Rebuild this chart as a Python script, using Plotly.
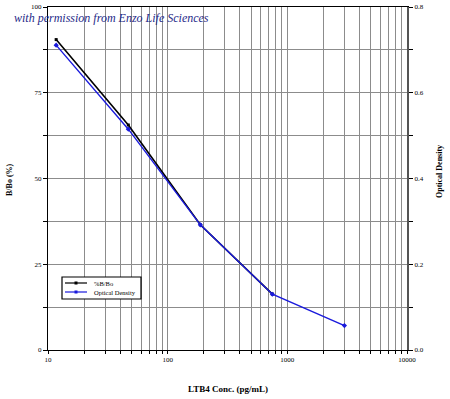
import plotly.graph_objects as go

conc_bbo = [11.7, 46.9, 187.5, 750]
bbo_pct = [90.5, 65.6, 36.5, 16.3]
conc_od = [11.7, 46.9, 187.5, 750, 3000]
od_vals = [0.711, 0.515, 0.292, 0.130, 0.057]

x_major = [10, 100, 1000, 10000]
x_major_text = ["10", "100", "1000", "10000"]
x_minor = [m * d for d in (10, 100, 1000) for m in range(2, 10)]
y_major = [0, 25, 50, 75, 100]
y_minor = [12.5, 37.5, 62.5, 87.5]
y2_major = [0, 0.2, 0.4, 0.6, 0.8]
y2_major_text = ["0.0", "0.2", "0.4", "0.6", "0.8"]
y2_minor = [0.1, 0.3, 0.5, 0.7]

SERIF = "Liberation Serif"
GRID = "#8c8c8c"
BLACK = "black"
BLUE = "#1a1adc"

W, H = 450, 399
L, R, T, B = 48, 43, 7, 49
PW, PH = W - L - R, H - T - B


def px(x):
    return (x - L) / PW


def py(y):
    return 1 - (y - T) / PH


fig = go.Figure()
fig.add_trace(go.Scatter(x=conc_bbo, y=bbo_pct, name="%B/Bo", mode="lines+markers",
                         line=dict(color=BLACK, width=1.6),
                         marker=dict(symbol="square", size=3, color=BLACK), yaxis="y"))
fig.add_trace(go.Scatter(x=conc_od, y=od_vals, name="Optical Density", mode="lines+markers",
                         line=dict(color=BLUE, width=1.4),
                         marker=dict(symbol="diamond", size=4, color=BLUE), yaxis="y2"))

fig.update_layout(
    width=W, height=H,
    margin=dict(l=L, r=R, t=T, b=B),
    paper_bgcolor="white", plot_bgcolor="white",
    font=dict(family=SERIF, size=7, color="black"),
    showlegend=False,
    xaxis=dict(type="log", range=[1, 4], tickvals=x_major, ticktext=x_major_text,
               showgrid=True, gridcolor=GRID, gridwidth=1,
               showline=True, linecolor="black", linewidth=1, mirror=True,
               ticks="outside", ticklen=3, tickcolor="black",
               minor=dict(tickvals=x_minor, showgrid=True, gridcolor=GRID, gridwidth=1,
                          ticks="outside", ticklen=3, tickcolor="black"),
               tickfont=dict(family=SERIF, size=7, color="black"), zeroline=False, automargin=False),
    yaxis=dict(range=[0, 100], tickvals=y_major,
               showgrid=True, gridcolor=GRID, gridwidth=1,
               showline=True, linecolor="black", linewidth=1,
               ticks="outside", ticklen=4, tickcolor="black",
               minor=dict(tickvals=y_minor, showgrid=True, gridcolor=GRID, gridwidth=1,
                          ticks="outside", ticklen=4, tickcolor="black"),
               tickfont=dict(family=SERIF, size=7, color="black"), zeroline=False, automargin=False),
    yaxis2=dict(range=[0, 0.8], overlaying="y", side="right", tickvals=y2_major, ticktext=y2_major_text,
                showgrid=False, showline=True, linecolor="#555555", linewidth=2,
                ticks="outside", ticklen=4, tickcolor="black",
                minor=dict(tickvals=y2_minor, ticks="outside", ticklen=4, tickcolor="black"),
                tickfont=dict(family=SERIF, size=7, color="black"), zeroline=False, automargin=False),
)

ann = dict(xref="paper", yref="paper", showarrow=False)
# note at top
fig.add_annotation(x=px(12), y=py(27), xanchor="left", yanchor="bottom",
                   text="with permission from Enzo Life Sciences",
                   font=dict(family=SERIF, size=12, color="#1f2a88", style="italic"), **ann)
# axis titles
fig.add_annotation(x=px(228), y=py(389), xanchor="center", yanchor="middle",
                   text="<b>LTB4 Conc. (pg/mL)</b>", font=dict(family=SERIF, size=9), **ann)
fig.add_annotation(x=px(9), y=py(180), xanchor="center", yanchor="middle", textangle=-90,
                   text="<b>B/Bo (%)</b>", font=dict(family=SERIF, size=8), **ann)
fig.add_annotation(x=px(439), y=py(172), xanchor="center", yanchor="middle", textangle=-90,
                   text="<b>Optical Density</b>", font=dict(family=SERIF, size=8), **ann)

# legend box
lx0, lx1, ly0, ly1 = 62, 141, 277, 299
fig.add_shape(type="rect", xref="paper", yref="paper", x0=px(lx0), x1=px(lx1), y0=py(ly1), y1=py(ly0),
              line=dict(color="black", width=1.2), fillcolor="white", layer="above")
for i, (name, col) in enumerate([("%B/Bo", BLACK), ("Optical Density", BLUE)]):
    yy = 283 + i * 9
    fig.add_shape(type="line", xref="paper", yref="paper", x0=px(65), x1=px(87), y0=py(yy), y1=py(yy),
                  line=dict(color=col, width=1.2), layer="above")
    fig.add_shape(type="rect", xref="paper", yref="paper", x0=px(74.5), x1=px(77.5), y0=py(yy + 1.5),
                  y1=py(yy - 1.5), line=dict(color=col, width=0), fillcolor=col, layer="above")
    fig.add_annotation(x=px(92), y=py(yy), xanchor="left", yanchor="middle", text=name,
                       font=dict(family=SERIF, size=6.5, color="black"), **ann)

fig.write_html("out.html", config={"displayModeBar": False},
               post_script="document.body.style.margin='0';")
